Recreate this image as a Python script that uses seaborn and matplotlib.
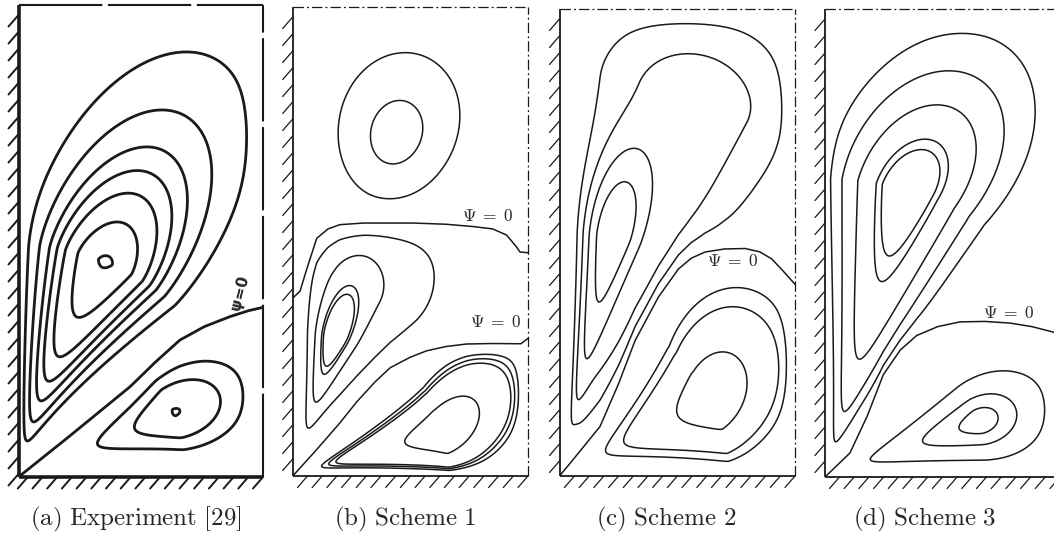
import numpy as np
import matplotlib
matplotlib.use("Agg")
import matplotlib.pyplot as plt
import seaborn as sns

sns.set_theme(style="white")
plt.rcParams["mathtext.fontset"] = "cm"
plt.rcParams["lines.scale_dashes"] = False
plt.rcParams["font.family"] = ["DejaVu Sans"]

# ------------------------------------------------------------
# values
# u = 0..1 across a panel (left wall -> right edge)
# v = height above the bottom wall, same unit as u
# ------------------------------------------------------------

# Psi = 0 separatrices
sep_a_u = [0, 0.2, 0.456, 0.56, 0.66, 0.76, 0.865, 0.94, 1.0]
sep_a_v = [0, 0.16, 0.369, 0.47, 0.56, 0.615, 0.656, 0.68, 0.694]

sep_b1_u = [0, 0.031, 0.06, 0.102, 0.15, 0.2, 0.3, 0.513, 0.65, 0.768, 0.85, 0.909, 0.95, 0.966, 1.0]
sep_b1_v = [0.756, 0.785, 0.88, 1.01, 1.05, 1.068, 1.075, 1.075, 1.07, 1.06, 1.05, 1.024, 0.975, 0.952, 0.949]
sep_b2_u = [0, 0.1, 0.2, 0.272, 0.35, 0.414, 0.5, 0.569, 0.65, 0.739, 0.85, 0.97, 1.0]
sep_b2_v = [0, 0.11, 0.225, 0.315, 0.4, 0.46, 0.505, 0.532, 0.55, 0.561, 0.563, 0.562, 0.585]

sep_c_u = [0, 0.045, 0.172, 0.25, 0.321, 0.42, 0.505, 0.56, 0.618, 0.7, 0.788, 0.85, 0.901, 0.95, 1.0]
sep_c_v = [0, 0.054, 0.21, 0.39, 0.575, 0.76, 0.879, 0.925, 0.951, 0.964, 0.966, 0.952, 0.922, 0.87, 0.814]

sep_d_u = [0, 0.106, 0.18, 0.248, 0.32, 0.39, 0.48, 0.574, 0.68, 0.787, 0.88, 0.97, 1.0]
sep_d_v = [0, 0.102, 0.26, 0.435, 0.54, 0.602, 0.64, 0.66, 0.662, 0.655, 0.64, 0.617, 0.61]

# vortex cores:
# rho0, phi0 [deg], s_in, s_out, p_in, p_out, s_phi [deg], amp, twist_in, twist_out
a_up_core = [[0.948, 68.0, 0.52, 0.25, 1.1, 1.5, 9.5, 1.0, 6.0, -4.0]]
a_lo_core = [[0.69, 22.5, 0.90, 0.42, 0.85, 2.0, 15.0, 1.0, 0.0, 0.0]]
b_top_core = [[1.52, 73.2, 0.19, 0.19, 2.0, 2.0, 8.6, 1.0, 0.0, 0.0]]
b_mid_core = [[0.626, 73.3, 0.42, 0.30, 1.05, 2.0, 6.2, 1.0, 0.0, 0.0],
              [0.85, 68.0, 1.2, 0.35, 1.0, 2.0, 18.0, 0.35, 0.0, 0.0]]
b_lo_core = [[0.668, 16.5, 0.58, 0.30, 0.7, 2.0, 11.0, 1.0, 0.0, 18.0]]
c_up_core = [[1.05, 77.5, 0.40, 0.22, 0.92, 2.0, 4.5, 2.0, 0.0, 0.0],
             [1.70, 70.0, 2.35, 0.20, 2.0, 2.0, 15.0, 0.45, 0.0, 0.0]]
c_lo_core = [[0.72, 27.0, 0.386, 0.30, 0.87, 2.0, 14.0, 1.0, 0.0, 20.0]]
d_up_core = [[1.27, 74.0, 0.52, 0.20, 1.1, 2.0, 7.2, 1.0, 0.0, -10.0]]
d_lo_core = [[0.70, 19.8, 0.90, 0.30, 1.0, 2.0, 12.0, 1.0, 0.0, 0.0]]

# how far the streamlines keep off each separatrix
a_sep_gap = [0.05, 0.05]
b_sep_gap = [0.05, 0.08, 0.05]
c_sep_gap = [0.09, 0.06]
d_sep_gap = [0.08, 0.05]

# one point read on each drawn streamline
a_up_pt_u = [0.36, 0.403, 0.517, 0.538, 0.526, 0.579, 0.551]
a_up_pt_v = [0.905, 1.043, 1.137, 1.243, 1.35, 1.501, 1.71]
a_lo_pt_u = [0.65, 0.824, 0.906]
a_lo_pt_v = [0.28, 0.327, 0.397]
b_top_pt_u = [0.456, 0.414]
b_top_pt_v = [1.596, 1.79]
b_mid_pt_u = [0.208, 0.229, 0.378, 0.598]
b_mid_pt_v = [0.764, 0.807, 0.865, 0.88]
b_lo_pt_u = [0.782, 0.924, 0.942, 0.959]
b_lo_pt_v = [0.214, 0.373, 0.373, 0.373]
c_up_pt_u = [0.285, 0.342, 0.505, 0.575]
c_up_pt_v = [1.248, 1.385, 1.79, 1.92]
c_lo_pt_u = [0.795, 0.915, 0.958]
c_lo_pt_v = [0.372, 0.575, 0.575]
d_up_pt_u = [0.369, 0.376, 0.39, 0.489, 0.489]
d_up_pt_v = [1.385, 1.428, 1.566, 1.726, 1.877]
d_lo_pt_u = [0.736, 0.809, 0.923]
d_lo_pt_v = [0.243, 0.298, 0.357]

captions = ["(a) Experiment [29]", "(b) Scheme 1", "(c) Scheme 2", "(d) Scheme 3"]
caption_x = [136, 405, 666, 925]

# panel boxes in pixels: left, right, top, bottom
boxes = [(18.5, 263, 5, 477), (292.7, 528, 7, 476), (559.5, 795, 9, 476), (825, 1060, 9, 477)]

FW, FH = 1054, 534


def radial_cost(t, s, p):
    g = (np.abs(t) / s) ** p
    if p < 1.1:
        # round off the cusp at t = 0
        r = np.abs(t) ** (2 - p)
        g = g * r / (r + 0.03 ** (2 - p))
    return g


def core_field(U, V, cores):
    rho = np.hypot(U, V) + 1e-9
    phi = np.degrees(np.arctan2(V, U))
    out = np.zeros_like(U, dtype=float)
    for rho0, phi0, s_in, s_out, p_in, p_out, s_phi, amp, tw_in, tw_out in cores:
        t = np.log(rho / rho0)
        g_t = np.where(t > 0, radial_cost(np.clip(t, 0, None), s_out, p_out),
                       radial_cost(np.clip(t, None, 0), s_in, p_in))
        phic = phi0 + tw_in * np.clip(-t, 0, None) + tw_out * np.clip(t, 0, None)
        out += amp * np.exp(-g_t - ((phi - phic) / s_phi) ** 2)
    return out


def damp(U, V, conds, seps, top, gap, d=0.05):
    # Psi = 0 on the walls, on the symmetry lines and on the separatrices
    f = np.tanh(U / d) * np.tanh(V / d) * np.tanh(np.clip(1 - U, 0, None) / d) \
        * np.tanh(np.clip(top - V, 0, None) / d)
    for k, side in conds:
        su, sv = seps[k]
        f = f * np.tanh(np.abs(V - np.interp(U, su, sv)) / gap)
    return f


def region(U, V, conds, seps):
    m = np.ones(U.shape, bool)
    for k, side in conds:
        su, sv = seps[k]
        m &= (V - np.interp(U, su, sv)) * side > 0
    return m


def draw_panel(ax, box, seps, vortices, gaps, exp_style):
    left, right, top_px, bot_px = box
    W = right - left
    top = (bot_px - top_px) / W
    lw = 2.0 if exp_style else 1.1
    U, V = np.meshgrid(np.linspace(0, 1, 420), np.linspace(0, top, int(420 * top)))
    for (cores, conds, pu, pv), gap in zip(vortices, gaps):
        psi = core_field(U, V, cores) * damp(U, V, conds, seps, top, gap)
        pu, pv = np.array(pu), np.array(pv)
        lev = core_field(pu, pv, cores) * damp(pu, pv, conds, seps, top, gap)
        m = region(U, V, conds, seps)
        ax.contour(U, V, np.ma.array(psi, mask=~m), levels=np.unique(lev),
                   colors="k", linewidths=lw)
    for su, sv in seps:
        sns.lineplot(x=su, y=sv, ax=ax, sort=False, estimator=None, color="k", lw=lw)

    wall_lw = 2.6 if exp_style else 1.3
    hatch_lw = 1.4 if exp_style else 0.9
    ax.plot([0, 0], [0, top], color="k", lw=wall_lw, clip_on=False, solid_capstyle="butt")
    ax.plot([0, 1], [0, 0], color="k", lw=wall_lw, clip_on=False, solid_capstyle="butt")
    if exp_style:
        edge = dict(color="k", lw=1.5, ls=(0, (60, 4)))
    else:
        edge = dict(color="k", lw=0.9, ls=(0, (7.5, 2.2, 1.4, 2.2)))
    ax.plot([0, 1], [top, top], clip_on=False, **edge)
    ax.plot([1, 1], [0, top], clip_on=False, **edge)

    dx, dy = 10 / W, 11.5 / W
    for v0 in np.arange(top - 10 / W, 0.01, -17 / W):
        ax.plot([0, -dx], [v0, v0 - dy], color="k", lw=hatch_lw, clip_on=False)
    for u0 in np.arange(1.0, 0.02, -14.7 / W):
        ax.plot([u0, u0 - dx], [0, -dy], color="k", lw=hatch_lw, clip_on=False)

    ax.set_xlim(0, 1)
    ax.set_ylim(0, top)
    ax.axis("off")


fig = plt.figure(figsize=(FW / 100, FH / 100), dpi=100)
axes = []
for left, right, top_px, bot_px in boxes:
    axes.append(fig.add_axes([left / FW, (FH - bot_px) / FH, (right - left) / FW, (bot_px - top_px) / FH]))

seps_a = [(sep_a_u, sep_a_v)]
draw_panel(axes[0], boxes[0], seps_a,
           [(a_up_core, [(0, 1)], a_up_pt_u, a_up_pt_v),
            (a_lo_core, [(0, -1)], a_lo_pt_u, a_lo_pt_v)], a_sep_gap, True)

seps_b = [(sep_b1_u, sep_b1_v), (sep_b2_u, sep_b2_v)]
draw_panel(axes[1], boxes[1], seps_b,
           [(b_top_core, [(0, 1)], b_top_pt_u, b_top_pt_v),
            (b_mid_core, [(0, -1), (1, 1)], b_mid_pt_u, b_mid_pt_v),
            (b_lo_core, [(1, -1)], b_lo_pt_u, b_lo_pt_v)], b_sep_gap, False)

seps_c = [(sep_c_u, sep_c_v)]
draw_panel(axes[2], boxes[2], seps_c,
           [(c_up_core, [(0, 1)], c_up_pt_u, c_up_pt_v),
            (c_lo_core, [(0, -1)], c_lo_pt_u, c_lo_pt_v)], c_sep_gap, False)

seps_d = [(sep_d_u, sep_d_v)]
draw_panel(axes[3], boxes[3], seps_d,
           [(d_up_core, [(0, 1)], d_up_pt_u, d_up_pt_v),
            (d_lo_core, [(0, -1)], d_lo_pt_u, d_lo_pt_v)], d_sep_gap, False)

# Psi = 0 labels
psi_label = r"$\Psi\;=\;0$"
axes[0].text(0.904, 0.753, "ψ=0", rotation=76, ha="center", va="center",
             fontsize=11, fontweight="bold", family=["DejaVu Sans"])
axes[1].text(0.828, 1.105, psi_label, ha="center", va="center", fontsize=12.5)
axes[1].text(0.862, 0.654, psi_label, ha="center", va="center", fontsize=12.5)
axes[2].text(0.734, 0.915, psi_label, ha="center", va="center", fontsize=12.5)
axes[3].text(0.78, 0.697, psi_label, ha="center", va="center", fontsize=12.5)

for cx, cap in zip(caption_x, captions):
    fig.text(cx / FW, (FH - 525) / FH, r"$\mathrm{" + cap.replace(" ", r"\ ") + "}$",
             ha="center", va="baseline", fontsize=18)

fig.savefig("out.png", dpi=100)
